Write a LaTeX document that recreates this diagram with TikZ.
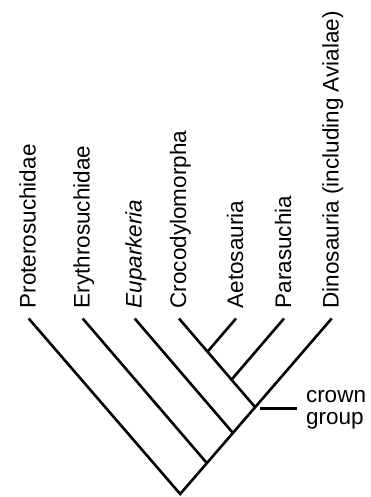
\documentclass[tikz,border=0pt]{standalone}
\usepackage{fontspec}
\setmainfont{Liberation Sans}
\begin{document}
\begin{tikzpicture}[x=1bp,y=-1bp,
  branch/.style={line width=2.6bp, black},
  taxon/.style={rotate=90, anchor=base west, inner sep=0pt, font=\fontsize{22.5bp}{27bp}\selectfont},
  note/.style={anchor=base west, align=left, inner sep=0pt, font=\fontsize{22.5bp}{21.3bp}\selectfont}]
\path[use as bounding box] (0,0) rectangle (370,497);
% tips
\coordinate (tProt) at (28.7,318.5);
\coordinate (tEry)  at (82.7,318.5);
\coordinate (tEup)  at (134.7,318.5);
\coordinate (tCro)  at (179,318.5);
\coordinate (tAet)  at (236,318.5);
\coordinate (tPar)  at (284,318.5);
\coordinate (tDino) at (331.7,318.5);
% internal nodes
\coordinate (root) at (180.2,494);
\coordinate (jEry) at (207.2,463.5);
\coordinate (jEup) at (233.2,433.3);
\coordinate (jCro) at (255.4,407.5);
\coordinate (jAet) at (207.5,351.7);
\coordinate (jPar) at (231.5,379.7);
\coordinate (cStart) at (260,408.3);
\coordinate (cEnd) at (296.7,408.3);
% labels
\node[taxon] (lProt) at (35.7,308.5) {Proterosuchidae};
\node[taxon] (lEry)  at (89.7,308.5) {Erythrosuchidae};
\node[taxon] (lEup)  at (141.7,308.5) {\itshape Euparkeria};
\node[taxon] (lCro)  at (186,308.5) {Crocodylomorpha};
\node[taxon] (lAet)  at (243,308.5) {Aetosauria};
\node[taxon] (lPar)  at (291,308.5) {Parasuchia};
\node[taxon] (lDino) at (338.7,308.5) {Dinosauria (including Avialae)};
\node[note] (crown) at (305.8,424) {crown\\group};
% branches
\draw[branch] (tProt) -- (root) -- (tDino);
\draw[branch] (tEry) -- (jEry);
\draw[branch] (tEup) -- (jEup);
\draw[branch] (tCro) -- (jCro);
\draw[branch] (tAet) -- (jAet);
\draw[branch] (tPar) -- (jPar);
\draw[branch] (cStart) -- (cEnd);
\end{tikzpicture}
\end{document}
